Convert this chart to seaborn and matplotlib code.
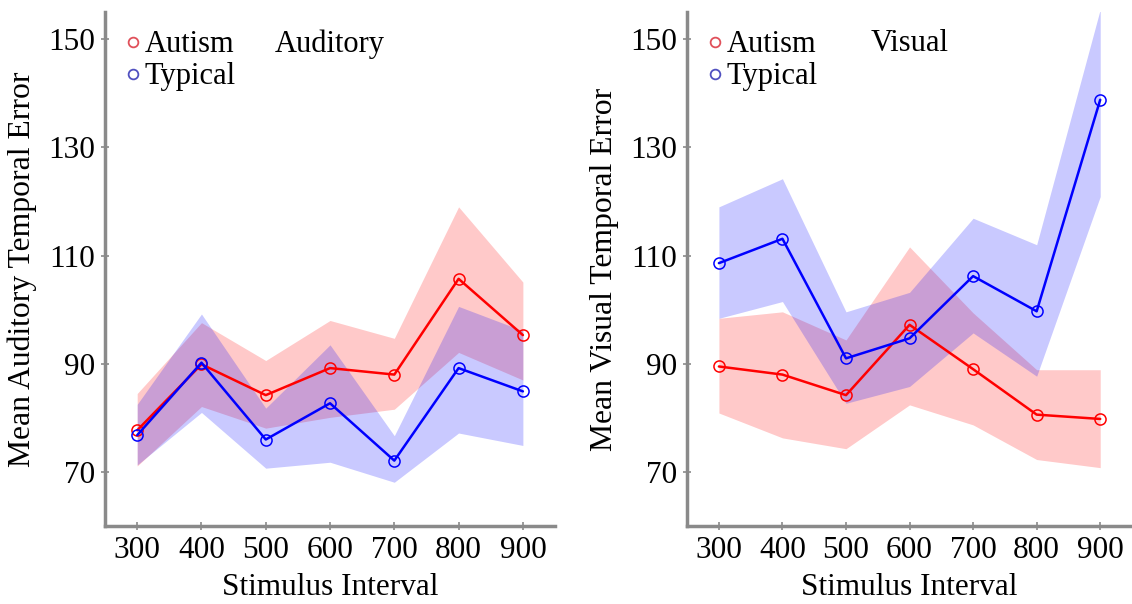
import pandas as pd
import matplotlib
matplotlib.use("Agg")
import matplotlib.pyplot as plt
from matplotlib.lines import Line2D
import seaborn as sns

# Stimulus intervals (x axis)
intervals = [300, 400, 500, 600, 700, 800, 900]
groups = ["Autism", "Typical"]

# Auditory panel: mean and shaded band limits
aud_autism_mean = [77.7, 89.9, 84.2, 89.2, 88.0, 105.7, 95.3]
aud_autism_lo = [71.1, 82.1, 78.1, 80.1, 81.6, 92.1, 87.0]
aud_autism_hi = [84.5, 97.6, 90.6, 98.0, 94.7, 119.0, 105.1]
aud_typical_mean = [76.8, 90.2, 76.0, 82.7, 72.1, 89.2, 84.9]
aud_typical_lo = [71.3, 81.0, 70.7, 71.8, 68.1, 77.2, 74.9]
aud_typical_hi = [82.5, 99.2, 81.8, 93.5, 76.7, 100.6, 96.1]

# Visual panel: mean and shaded band limits
vis_autism_mean = [89.5, 88.0, 84.2, 97.2, 89.0, 80.6, 79.8]
vis_autism_lo = [80.9, 76.3, 74.3, 82.4, 78.7, 72.3, 70.8]
vis_autism_hi = [98.4, 99.6, 94.4, 111.6, 99.4, 88.9, 88.9]
vis_typical_mean = [108.6, 113.1, 91.0, 94.7, 106.2, 99.7, 138.8]
vis_typical_lo = [98.4, 101.5, 82.7, 85.8, 95.7, 87.7, 120.9]
vis_typical_hi = [119.0, 124.2, 99.6, 103.2, 116.9, 112.0, 155.5]

yticks = [70, 90, 110, 130, 150]
colors = {"Autism": "#ff0000", "Typical": "#0000ff"}


def to_long(series):
    """Stack lower / mean / upper values into long form per group."""
    rows = []
    for group, (mean, lo, hi) in series.items():
        for x, m, l, h in zip(intervals, mean, lo, hi):
            for v in (l, m, h):
                rows.append({"interval": x, "error": v, "group": group})
    return pd.DataFrame(rows)


aud_df = to_long({
    "Autism": (aud_autism_mean, aud_autism_lo, aud_autism_hi),
    "Typical": (aud_typical_mean, aud_typical_lo, aud_typical_hi),
})
vis_df = to_long({
    "Autism": (vis_autism_mean, vis_autism_lo, vis_autism_hi),
    "Typical": (vis_typical_mean, vis_typical_lo, vis_typical_hi),
})

sns.set_style("ticks")
plt.rcParams["font.family"] = ["Liberation Serif", "DejaVu Serif"]
plt.rcParams["font.size"] = 22
plt.rcParams["text.color"] = "black"
plt.rcParams["axes.labelcolor"] = "black"
plt.rcParams["xtick.labelcolor"] = "black"
plt.rcParams["ytick.labelcolor"] = "black"

fig = plt.figure(figsize=(11.32, 6.04), dpi=100)
ax1 = fig.add_axes([0.0928, 0.129, 0.3975, 0.851])
ax2 = fig.add_axes([0.607, 0.129, 0.393, 0.851])

panels = [
    (ax1, aud_df, "Auditory", "Mean Auditory Temporal Error"),
    (ax2, vis_df, "Visual", "Mean Visual Temporal Error"),
]

for ax, df, title, ylabel in panels:
    sns.lineplot(
        data=df, x="interval", y="error", hue="group", hue_order=groups,
        palette=colors, estimator="median",
        errorbar=lambda v: (v.min(), v.max()),
        err_kws={"alpha": 0.21, "linewidth": 0},
        marker="o", markersize=8, markerfacecolor="none",
        markeredgewidth=1.1, linewidth=1.8, ax=ax, legend=False,
    )
    # open circles in the line colour
    for line in ax.lines:
        line.set_markeredgecolor(line.get_color())

    ax.set_xlim(250, 950)
    ax.set_ylim(60, 155)
    ax.set_xticks(intervals)
    ax.set_yticks(yticks)
    ax.set_xlabel("Stimulus Interval", labelpad=6, fontsize=22.5)
    ax.set_ylabel(ylabel, labelpad=8, fontsize=22.8)
    ax.text(0.5, 0.938, title, transform=ax.transAxes, ha="center", va="center",
            fontsize=22)

    for side in ["top", "right"]:
        ax.spines[side].set_visible(False)
    for side in ["left", "bottom"]:
        ax.spines[side].set_color("#8a8a8a")
        ax.spines[side].set_linewidth(2.5)
    ax.tick_params(direction="inout", length=6, width=1.2, color="#8a8a8a",
                   labelsize=22.5, pad=4)

    handles = [
        Line2D([], [], ls="none", marker="o", markersize=7, markerfacecolor="none",
               markeredgewidth=1.3, markeredgecolor=c, label=g)
        for g, c in [("Autism", "#e0505a"), ("Typical", "#5050c0")]
    ]
    ax.legend(handles=handles, loc="upper left", bbox_to_anchor=(0.0, 1.0),
              frameon=False, handlelength=0.6, handletextpad=0.1,
              labelspacing=0.1, borderaxespad=0.2, fontsize=22)

fig.savefig("out.png", dpi=100)
